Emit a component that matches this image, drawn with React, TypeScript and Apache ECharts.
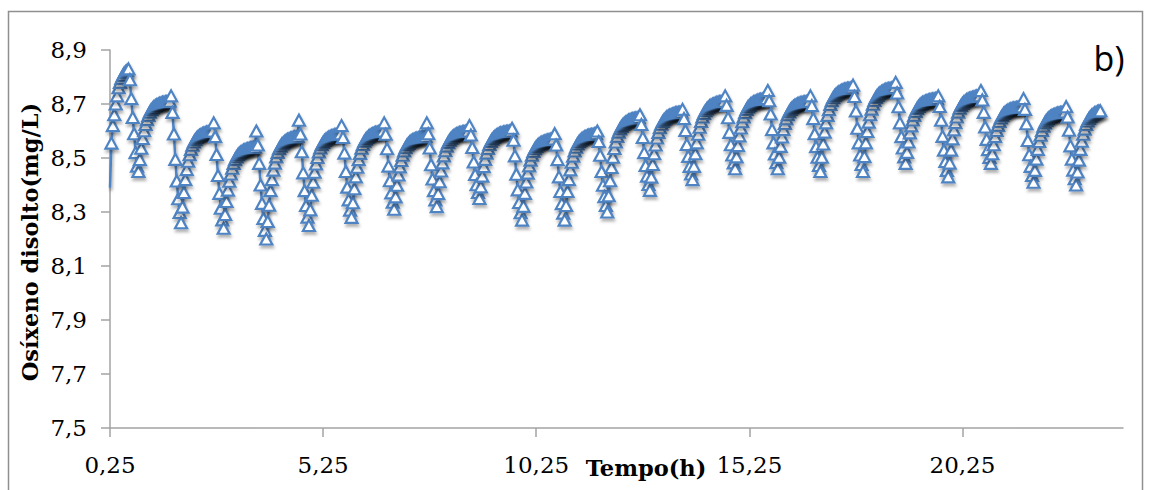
import React, { useEffect, useRef } from "react";
import * as echarts from "echarts";

// time grid: one reading every 2 minutes starting at 0,25 h
const START_HOUR = 0.25;
const STEP_HOURS = 2 / 60;
const CATEGORY_COUNT = 714;
const X_LABEL_EVERY = 150; // 5 h
const Y_TICKS = [7.5, 7.7, 7.9, 8.1, 8.3, 8.5, 8.7, 8.9];

// dissolved oxygen (mg/L), one block per aeration cycle (~1 h)
const cycle00 = [8.39, 8.555, 8.62, 8.66, 8.7, 8.73, 8.76, 8.78, 8.795, 8.805, 8.815, 8.82, 8.825, 8.83, 8.79, 8.72, 8.65, 8.59, 8.52, 8.47, 8.45];
const cycle01 = [8.494, 8.536, 8.572, 8.601, 8.624, 8.642, 8.658, 8.67, 8.679, 8.685, 8.691, 8.694, 8.698, 8.7, 8.702, 8.704, 8.706, 8.707, 8.708, 8.709, 8.709, 8.71, 8.73, 8.669, 8.589, 8.495, 8.415, 8.349, 8.298, 8.26];
const cycle02 = [8.318, 8.372, 8.42, 8.457, 8.488, 8.512, 8.532, 8.547, 8.559, 8.568, 8.575, 8.58, 8.584, 8.587, 8.59, 8.592, 8.594, 8.596, 8.597, 8.598, 8.599, 8.6, 8.63, 8.579, 8.513, 8.435, 8.369, 8.314, 8.271, 8.24];
const cycle03 = [8.291, 8.339, 8.381, 8.414, 8.441, 8.462, 8.48, 8.494, 8.504, 8.512, 8.518, 8.522, 8.526, 8.529, 8.531, 8.533, 8.535, 8.536, 8.538, 8.539, 8.539, 8.54, 8.6, 8.548, 8.48, 8.4, 8.332, 8.276, 8.232, 8.2];
const cycle04 = [8.265, 8.325, 8.379, 8.42, 8.455, 8.481, 8.504, 8.521, 8.534, 8.544, 8.552, 8.557, 8.562, 8.566, 8.569, 8.571, 8.574, 8.575, 8.577, 8.578, 8.579, 8.58, 8.64, 8.589, 8.523, 8.445, 8.379, 8.324, 8.281, 8.25];
const cycle05 = [8.308, 8.362, 8.41, 8.447, 8.478, 8.502, 8.522, 8.537, 8.549, 8.558, 8.565, 8.57, 8.574, 8.577, 8.58, 8.582, 8.584, 8.586, 8.587, 8.588, 8.589, 8.59, 8.62, 8.576, 8.518, 8.45, 8.392, 8.345, 8.307, 8.28];
const cycle06 = [8.334, 8.386, 8.43, 8.466, 8.494, 8.517, 8.536, 8.55, 8.562, 8.57, 8.576, 8.581, 8.585, 8.588, 8.59, 8.593, 8.595, 8.596, 8.597, 8.598, 8.599, 8.6, 8.63, 8.588, 8.534, 8.47, 8.416, 8.371, 8.336, 8.31];
const cycle07 = [8.356, 8.399, 8.437, 8.467, 8.491, 8.51, 8.526, 8.538, 8.548, 8.554, 8.56, 8.564, 8.567, 8.57, 8.572, 8.574, 8.575, 8.577, 8.578, 8.579, 8.579, 8.58, 8.63, 8.59, 8.537, 8.475, 8.422, 8.379, 8.345, 8.32];
const cycle08 = [8.368, 8.412, 8.452, 8.482, 8.508, 8.527, 8.544, 8.557, 8.566, 8.573, 8.579, 8.583, 8.587, 8.589, 8.592, 8.594, 8.595, 8.597, 8.598, 8.599, 8.599, 8.6, 8.62, 8.585, 8.539, 8.485, 8.439, 8.401, 8.372, 8.35];
const cycle09 = [8.393, 8.433, 8.468, 8.495, 8.518, 8.535, 8.55, 8.561, 8.57, 8.576, 8.581, 8.585, 8.588, 8.591, 8.593, 8.594, 8.596, 8.597, 8.598, 8.599, 8.6, 8.6, 8.61, 8.566, 8.508, 8.44, 8.382, 8.335, 8.297, 8.27];
const cycle10 = [8.321, 8.369, 8.411, 8.444, 8.471, 8.492, 8.51, 8.524, 8.534, 8.542, 8.548, 8.552, 8.556, 8.559, 8.561, 8.563, 8.565, 8.566, 8.568, 8.569, 8.569, 8.57, 8.59, 8.548, 8.494, 8.43, 8.376, 8.331, 8.296, 8.27];
const cycle11 = [8.324, 8.376, 8.42, 8.456, 8.484, 8.507, 8.526, 8.54, 8.552, 8.56, 8.566, 8.571, 8.575, 8.578, 8.58, 8.583, 8.585, 8.586, 8.587, 8.588, 8.589, 8.59, 8.6, 8.561, 8.51, 8.45, 8.399, 8.357, 8.324, 8.3];
const cycle12 = [8.36, 8.416, 8.465, 8.503, 8.535, 8.559, 8.58, 8.596, 8.608, 8.617, 8.624, 8.629, 8.633, 8.637, 8.64, 8.642, 8.644, 8.646, 8.647, 8.648, 8.649, 8.65, 8.66, 8.624, 8.576, 8.52, 8.472, 8.433, 8.402, 8.38];
const cycle13 = [8.429, 8.476, 8.516, 8.548, 8.574, 8.595, 8.612, 8.625, 8.635, 8.642, 8.648, 8.653, 8.656, 8.659, 8.661, 8.663, 8.665, 8.667, 8.668, 8.669, 8.669, 8.67, 8.68, 8.646, 8.602, 8.55, 8.506, 8.469, 8.441, 8.42];
const cycle14 = [8.469, 8.516, 8.556, 8.588, 8.614, 8.635, 8.652, 8.665, 8.675, 8.682, 8.688, 8.693, 8.696, 8.699, 8.701, 8.703, 8.705, 8.707, 8.708, 8.709, 8.709, 8.71, 8.73, 8.695, 8.649, 8.595, 8.549, 8.511, 8.482, 8.46];
const cycle15 = [8.504, 8.546, 8.582, 8.611, 8.634, 8.652, 8.668, 8.68, 8.689, 8.695, 8.701, 8.704, 8.708, 8.71, 8.712, 8.714, 8.716, 8.717, 8.718, 8.719, 8.719, 8.72, 8.75, 8.712, 8.663, 8.605, 8.556, 8.515, 8.483, 8.46];
const cycle16 = [8.503, 8.543, 8.578, 8.605, 8.628, 8.645, 8.66, 8.671, 8.68, 8.686, 8.691, 8.695, 8.698, 8.701, 8.703, 8.704, 8.706, 8.707, 8.708, 8.709, 8.71, 8.71, 8.73, 8.694, 8.646, 8.59, 8.542, 8.503, 8.472, 8.45];
const cycle17 = [8.503, 8.552, 8.596, 8.63, 8.658, 8.679, 8.698, 8.712, 8.723, 8.731, 8.737, 8.741, 8.745, 8.748, 8.751, 8.753, 8.755, 8.756, 8.758, 8.758, 8.759, 8.76, 8.77, 8.728, 8.674, 8.61, 8.556, 8.511, 8.476, 8.45];
const cycle18 = [8.505, 8.556, 8.598, 8.633, 8.66, 8.681, 8.699, 8.713, 8.724, 8.732, 8.738, 8.742, 8.746, 8.749, 8.752, 8.754, 8.756, 8.757, 8.758, 8.759, 8.76, 8.761, 8.78, 8.741, 8.69, 8.63, 8.579, 8.537, 8.504, 8.48];
const cycle19 = [8.521, 8.559, 8.593, 8.619, 8.641, 8.658, 8.672, 8.683, 8.691, 8.697, 8.702, 8.706, 8.708, 8.711, 8.713, 8.714, 8.716, 8.717, 8.718, 8.719, 8.72, 8.72, 8.73, 8.691, 8.64, 8.58, 8.529, 8.487, 8.454, 8.43];
const cycle20 = [8.481, 8.529, 8.571, 8.604, 8.631, 8.652, 8.67, 8.684, 8.694, 8.702, 8.708, 8.712, 8.716, 8.719, 8.721, 8.723, 8.725, 8.726, 8.728, 8.729, 8.729, 8.73, 8.75, 8.715, 8.669, 8.615, 8.569, 8.531, 8.502, 8.48];
const cycle21 = [8.516, 8.549, 8.579, 8.602, 8.621, 8.635, 8.648, 8.657, 8.665, 8.67, 8.674, 8.677, 8.68, 8.682, 8.684, 8.685, 8.686, 8.687, 8.688, 8.689, 8.69, 8.69, 8.72, 8.68, 8.627, 8.565, 8.512, 8.469, 8.435, 8.41];
const cycle22 = [8.454, 8.496, 8.532, 8.561, 8.584, 8.602, 8.618, 8.63, 8.639, 8.645, 8.651, 8.654, 8.658, 8.66, 8.662, 8.664, 8.666, 8.667, 8.668, 8.669, 8.669, 8.67, 8.69, 8.652, 8.603, 8.545, 8.496, 8.455, 8.423, 8.4];
const cycle23 = [8.448, 8.492, 8.532, 8.562, 8.588, 8.607, 8.624, 8.637, 8.646, 8.653, 8.659, 8.663, 8.667, 8.669, 8.672, 8.674, 8.675];

const oxygen = [
  ...cycle00, ...cycle01, ...cycle02, ...cycle03, ...cycle04, ...cycle05,
  ...cycle06, ...cycle07, ...cycle08, ...cycle09, ...cycle10, ...cycle11,
  ...cycle12, ...cycle13, ...cycle14, ...cycle15, ...cycle16, ...cycle17,
  ...cycle18, ...cycle19, ...cycle20, ...cycle21, ...cycle22, ...cycle23,
];

const hours = Array.from({ length: CATEGORY_COUNT }, (_, i) =>
  (START_HOUR + i * STEP_HOURS).toFixed(2).replace(".", ",")
);

const BLUE = "#4f84c4";
const AXIS_GREY = "#a3a3a3";
const SERIF = "'DejaVu Serif', serif";

export default function App() {
  const ref = useRef<HTMLDivElement>(null);
  useEffect(() => {
    if (!ref.current) return;
    const chart = echarts.init(ref.current, null, { renderer: "svg" });
    chart.setOption({
      animation: false,
      backgroundColor: "#ffffff",
      grid: { left: 110, right: 28, top: 50, bottom: 62, containLabel: false },
      xAxis: {
        type: "category",
        data: hours,
        boundaryGap: false,
        axisLine: { show: true, lineStyle: { color: AXIS_GREY, width: 1.5 } },
        axisTick: { show: true, interval: X_LABEL_EVERY - 1, length: 9, lineStyle: { color: AXIS_GREY, width: 1.5 } },
        axisLabel: {
          interval: X_LABEL_EVERY - 1,
          fontFamily: SERIF,
          fontSize: 23,
          color: "#000",
          margin: 25,
        },
        splitLine: { show: false },
      },
      yAxis: {
        type: "value",
        min: 7.5,
        max: 8.9,
        axisLine: { show: true, lineStyle: { color: AXIS_GREY, width: 1.5 } },
        axisTick: { show: true, customValues: Y_TICKS, length: 9, lineStyle: { color: AXIS_GREY, width: 1.5 } },
        axisLabel: {
          customValues: Y_TICKS,
          formatter: (v: number) => v.toFixed(1).replace(".", ","),
          fontFamily: SERIF,
          fontSize: 23,
          color: "#000",
          margin: 23,
        },
        splitLine: { show: false },
      },
      series: [
        {
          type: "line",
          data: oxygen.map((v, i) => (i === 0 ? { value: v, symbol: "none" } : v)),
          symbol: "triangle",
          symbolSize: [12, 11],
          showAllSymbol: true,
          lineStyle: {
            color: BLUE,
            width: 2.5,
            shadowColor: "rgba(0,0,0,0.4)",
            shadowBlur: 3,
            shadowOffsetX: 1,
            shadowOffsetY: 3,
          },
          itemStyle: {
            color: "#ffffff",
            borderColor: BLUE,
            borderWidth: 2.2,
            shadowColor: "rgba(0,0,0,0.3)",
            shadowBlur: 3,
            shadowOffsetX: 1,
            shadowOffsetY: 3,
          },
        },
      ],
      graphic: [
        {
          type: "rect",
          shape: { x: 8.5, y: 11.5, width: 1134, height: 500 },
          style: { fill: "none", stroke: "#8f8f8f", lineWidth: 1.5 },
          silent: true,
        },
        {
          type: "text",
          x: 30,
          y: 242,
          rotation: Math.PI / 2,
          style: {
            text: "Osíxeno disolto(mg/L)",
            fontFamily: SERIF,
            fontWeight: "bold",
            fontSize: 22.5,
            fill: "#000",
            align: "center",
            verticalAlign: "middle",
          },
        },
        {
          type: "text",
          x: 646,
          y: 468,
          style: {
            text: "Tempo(h)",
            fontFamily: SERIF,
            fontWeight: "bold",
            fontSize: 22.5,
            fill: "#000",
            align: "center",
            verticalAlign: "middle",
          },
        },
        {
          type: "text",
          x: 1109,
          y: 58,
          style: {
            text: "b)",
            fontFamily: "'Open Sans', sans-serif",
            fontSize: 34,
            fill: "#000",
            align: "center",
            verticalAlign: "middle",
          },
        },
      ],
    });
    return () => chart.dispose();
  }, []);
  return (
    <div
      ref={ref}
      style={{ position: "fixed", left: 0, top: 0, width: 1151, height: 490, background: "#fff" }}
    />
  );
}
